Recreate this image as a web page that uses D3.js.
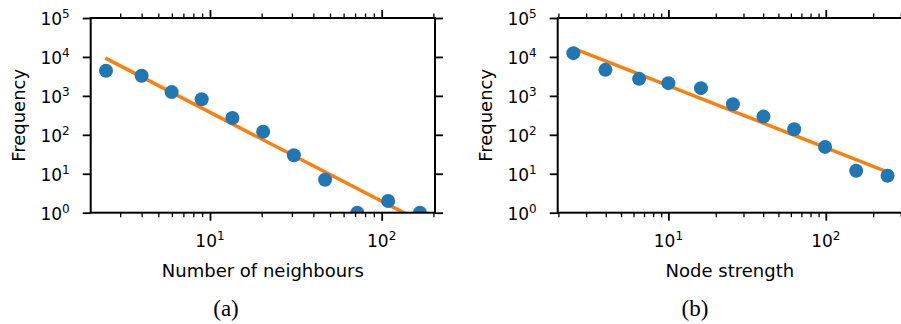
<!DOCTYPE html>
<html>
<head>
<meta charset="utf-8">
<script src="https://cdn.jsdelivr.net/npm/d3@7"></script>
<style>
  body { margin: 0; background: #fff; }
  svg { display: block; }
</style>
</head>
<body>
<div id="chart"></div>
<script>
// Panel (a): degree distribution
const degreeX = [2.48, 4.0, 5.98, 8.95, 13.5, 20.4, 30.8, 46.8, 72.1, 109, 167];
const degreeFreq = [4400, 3300, 1250, 820, 270, 120, 30, 7, 1, 2, 1];
const degreeFitX = [2.46, 167];
const degreeFitY = [9300, 0.61];

// Panel (b): strength distribution
const strengthX = [2.49, 3.98, 6.51, 10, 16.1, 25.7, 40.2, 63, 99, 156, 247];
const strengthFreq = [12500, 4660, 2735, 2120, 1578, 612, 294, 139, 49, 12, 8.9];
const strengthFitX = [2.47, 250];
const strengthFitY = [16800, 10.9];

// Ticks
const yTicks = [1, 10, 100, 1000, 10000, 100000];
const xMajorTicks = [10, 100];
const xMinorTicks = [2, 3, 4, 5, 6, 7, 8, 9, 20, 30, 40, 50, 60, 70, 80, 90, 200, 300];

const W = 901, H = 324;
const svg = d3.select('#chart').append('svg')
  .attr('width', W)
  .attr('height', H);

const TICK_FONT = 'DejaVu Sans, sans-serif';

drawPanel(svg, {
  id: 'a',
  left: 90.7, right: 435, top: 18, bottom: 212.7,
  xDomain: [2.02, 204.4],
  x: degreeX, y: degreeFreq, fitX: degreeFitX, fitY: degreeFitY,
  xLabel: 'Number of neighbours',
  caption: '(a)', captionX: 226
});

drawPanel(svg, {
  id: 'b',
  left: 557.7, right: 902, top: 18, bottom: 212.7,
  xDomain: [1.98, 305],
  x: strengthX, y: strengthFreq, fitX: strengthFitX, fitY: strengthFitY,
  xLabel: 'Node strength',
  caption: '(b)', captionX: 695
});

function drawPanel(svg, cfg) {
  const xScale = d3.scaleLog().domain(cfg.xDomain).range([cfg.left, cfg.right]);
  const yScale = d3.scaleLog().domain([1, 1e5]).range([cfg.bottom, cfg.top]);
  const minor = xMinorTicks.filter(v => v >= cfg.xDomain[0] && v <= cfg.xDomain[1]);

  const g = svg.append('g');

  // clip to axes area
  const clipId = 'clip-' + cfg.id;
  svg.append('defs').append('clipPath').attr('id', clipId)
    .append('rect')
      .attr('x', cfg.left)
      .attr('y', cfg.top)
      .attr('width', cfg.right - cfg.left)
      .attr('height', cfg.bottom - cfg.top);

  const plot = g.append('g').attr('clip-path', `url(#${clipId})`);

  // fit line
  const fit = cfg.fitX.map((v, i) => [v, cfg.fitY[i]]);
  plot.append('path')
    .datum(fit)
    .attr('fill', 'none')
    .attr('stroke', '#ff7f0e')
    .attr('stroke-width', 3.5)
    .attr('d', d3.line().x(d => xScale(d[0])).y(d => yScale(d[1])));

  // points
  plot.selectAll('.pt')
    .data(cfg.x.map((v, i) => [v, cfg.y[i]]))
    .enter()
    .append('circle')
    .attr('class', 'pt')
    .attr('cx', d => xScale(d[0]))
    .attr('cy', d => yScale(d[1]))
    .attr('r', 7)
    .attr('fill', '#1f77b4');

  // Axes (ticks only, spines drawn separately)
  const axes = [
    [d3.axisBottom(xScale).tickValues(xMajorTicks).tickSize(8), cfg.bottom, 'x'],
    [d3.axisBottom(xScale).tickValues(minor).tickSize(4.5), cfg.bottom, 'x'],
    [d3.axisTop(xScale).tickValues(xMajorTicks).tickSize(8), cfg.top, 'x'],
    [d3.axisTop(xScale).tickValues(minor).tickSize(4.5), cfg.top, 'x'],
    [d3.axisLeft(yScale).tickValues(yTicks).tickSize(8), cfg.left, 'y'],
    [d3.axisRight(yScale).tickValues(yTicks).tickSize(8), cfg.right, 'y']
  ];
  axes.forEach(([axis, pos, dir], i) => {
    axis.tickFormat('');
    const a = g.append('g')
      .attr('transform', dir === 'x' ? `translate(0,${pos})` : `translate(${pos},0)`)
      .call(axis);
    a.select('.domain').remove();
    a.selectAll('text').remove();
    a.selectAll('line')
      .attr('stroke', '#000')
      .attr('stroke-width', (i === 1 || i === 3) ? 1.3 : 1.8);
  });

  // Tick labels with superscripts
  g.selectAll('.ylab')
    .data(yTicks)
    .enter()
    .append('text')
    .attr('class', 'ylab')
    .attr('x', cfg.left - 21)
    .attr('y', d => yScale(d) + 7)
    .attr('text-anchor', 'end')
    .attr('font-family', TICK_FONT)
    .attr('font-size', 17)
    .each(function(d) { powLabel(d3.select(this), d); });

  g.selectAll('.xlab')
    .data(xMajorTicks)
    .enter()
    .append('text')
    .attr('class', 'xlab')
    .attr('x', d => xScale(d))
    .attr('y', cfg.bottom + 34)
    .attr('text-anchor', 'middle')
    .attr('font-family', TICK_FONT)
    .attr('font-size', 17)
    .each(function(d) { powLabel(d3.select(this), d); });

  // spines
  g.append('rect')
    .attr('x', cfg.left)
    .attr('y', cfg.top)
    .attr('width', cfg.right - cfg.left)
    .attr('height', cfg.bottom - cfg.top)
    .attr('fill', 'none')
    .attr('stroke', '#000')
    .attr('stroke-width', 2);

  // axis labels
  g.append('text')
    .attr('x', (cfg.left + cfg.right) / 2)
    .attr('y', cfg.bottom + 64)
    .attr('text-anchor', 'middle')
    .attr('font-family', TICK_FONT)
    .attr('font-size', 18)
    .text(cfg.xLabel);

  g.append('text')
    .attr('transform', `translate(${cfg.left - 66}, ${(cfg.top + cfg.bottom) / 2}) rotate(-90)`)
    .attr('text-anchor', 'middle')
    .attr('font-family', TICK_FONT)
    .attr('font-size', 18)
    .text('Frequency');

  // caption
  g.append('text')
    .attr('x', cfg.captionX)
    .attr('y', 316)
    .attr('text-anchor', 'middle')
    .attr('font-family', 'Liberation Serif, serif')
    .attr('font-size', 23)
    .text(cfg.caption);
}

function powLabel(text, v) {
  const e = Math.round(Math.log10(v));
  text.append('tspan').text('10');
  text.append('tspan')
    .attr('font-size', 12)
    .attr('dy', -7)
    .text(e);
}
</script>
</body>
</html>
